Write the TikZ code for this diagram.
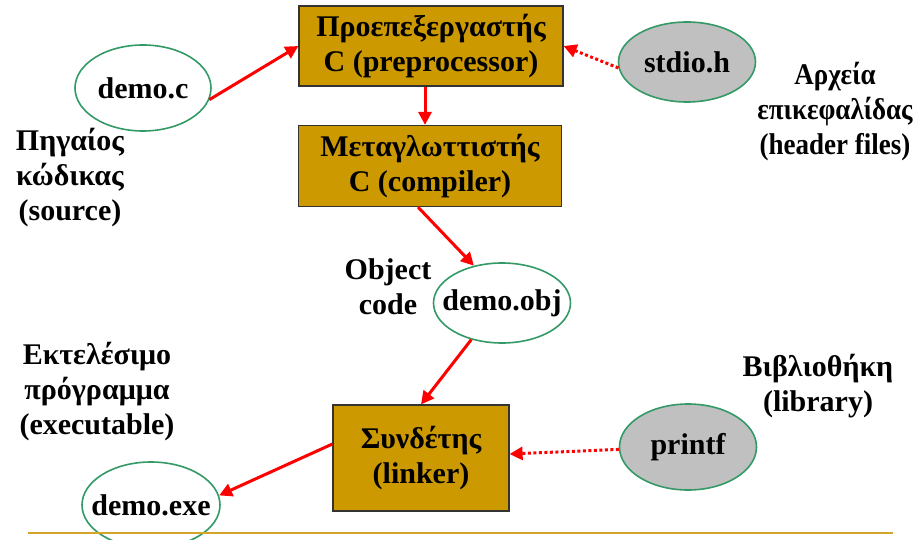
\documentclass[tikz,border=0pt]{standalone}
\usepackage{fontspec}
\setmainfont{Liberation Serif}
\usetikzlibrary{arrows.meta,shapes.geometric}
\definecolor{gold}{HTML}{CC9900}
\definecolor{rulegold}{HTML}{D4A52A}
\definecolor{egreen}{HTML}{339966}
\definecolor{egray}{HTML}{C0C0C0}
\tikzset{
  txt/.style={font=\fontsize{30}{35}\selectfont\bfseries, align=center, inner sep=0pt},
  gbox/.style={draw=black!80, line width=1.2pt, fill=gold, txt, inner sep=0pt},
  ell/.style={ellipse, draw=egreen, line width=1.6pt, fill=white, inner sep=0pt},
  gell/.style={ell, fill=egray},
  inlbl/.style={label={[txt]center:#1}},
  arr/.style={draw=red, line width=3pt, -{Triangle[length=13pt,width=13pt]}},
  darr/.style={arr, dash pattern=on 3pt off 2.5pt},
}
\begin{document}
\begin{tikzpicture}[x=1pt,y=-1pt]
\useasboundingbox (0,0) rectangle (918,540);
% boxes
\node[gbox, minimum width=264pt, minimum height=80pt] (pre) at (431,46) {Προεπεξεργαστής\\C (preprocessor)};
\node[gbox, minimum width=263pt, minimum height=81pt] (comp) at (430,166) {Μεταγλωττιστής\\C (compiler)};
\node[gbox, minimum width=176pt, minimum height=106pt] (link) at (421,458) {Συνδέτης\\(linker)};
% ellipses
\node[ell, minimum width=136pt, minimum height=86pt, inlbl={demo.c}] (democ) at (143,88) {};
\node[gell, minimum width=137pt, minimum height=80pt, inlbl={stdio.h}] (stdio) at (687,62) {};
\node[ell, minimum width=137pt, minimum height=80pt, inlbl={demo.obj}] (obj) at (502,303) {};
\node[gell, minimum width=137pt, minimum height=86pt, inlbl={printf}] (printf) at (688,447) {};
\node[ell, minimum width=138pt, minimum height=86pt, inlbl={demo.exe}] (exe) at (151,505) {};
% labels
\node[txt] (src) at (70,178) {Πηγαίος\\κώδικας\\(source)};
\node[txt, xscale=0.9] (hdr) at (835,112) {Αρχεία\\επικεφαλίδας\\(header files)};
\node[txt] (objc) at (388,287) {Object\\code};
\node[txt] (execl) at (97,392) {Εκτελέσιμο\\πρόγραμμα\\(executable)};
\node[txt] (lib) at (818,386) {Βιβλιοθήκη\\(library)};
% arrows
\draw[arr] (democ.-10) -- (pre.west);
\draw[darr] (stdio.185) -- (pre.east);
\draw[arr] ([xshift=-6pt]pre.south) -- ([xshift=-5pt]comp.north);
\draw[arr] ([xshift=-12pt]comp.south) -- (obj.127);
\draw[arr] (obj.-130) -- (link.north);
\draw[darr] (printf.182) -- ([yshift=4pt]link.east);
\draw[arr] ([yshift=14pt]link.west) -- (exe.8);
% bottom rule
\draw[rulegold, line width=2.5pt] (28,533) -- (893,533);
\end{tikzpicture}
\end{document}
